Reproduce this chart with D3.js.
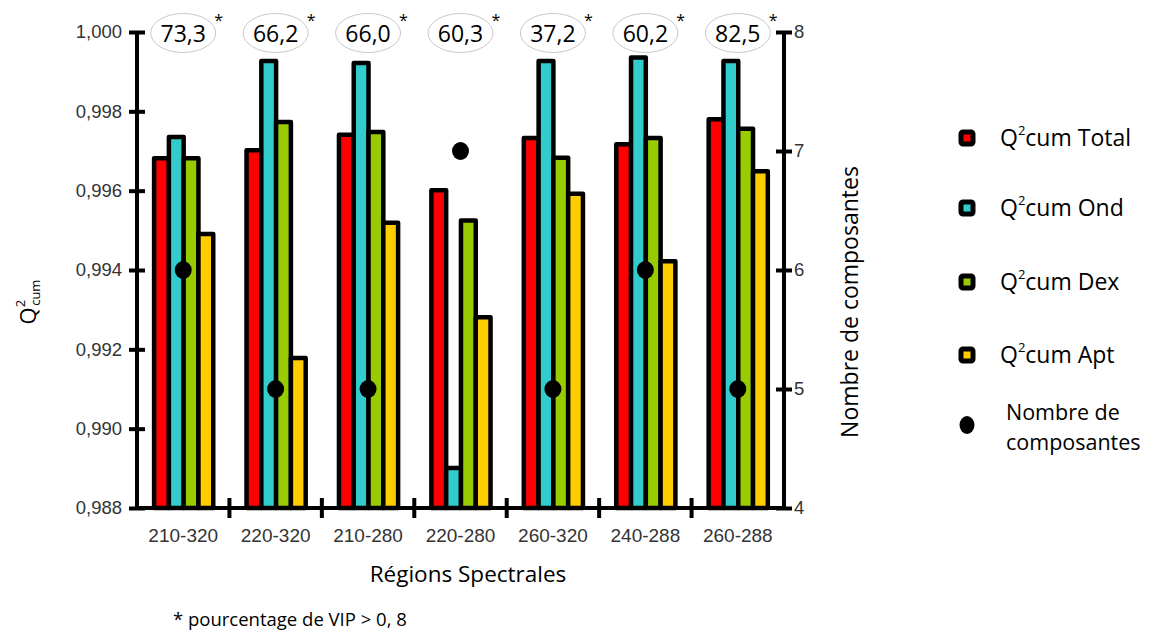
<!DOCTYPE html>
<html><head><meta charset="utf-8">
<script src="https://cdn.jsdelivr.net/npm/d3@7"></script>
<style>
body{margin:0;background:#fff;}
svg{display:block;}
</style></head>
<body>
<svg id="c" width="1151" height="631"></svg>
<script>
const categories = ["210-320","220-320","210-280","220-280","260-320","240-288","260-288"];
const seriesKeys = ["Total","Ond","Dex","Apt"];
const seriesColors = ["#ff0000","#33cccc","#99cc00","#ffcc00"];
const q2Total = [0.99682,0.99702,0.99741,0.99601,0.99733,0.99717,0.99780];
const q2Ond   = [0.99735,0.99927,0.99922,0.98901,0.99927,0.99936,0.99927];
const q2Dex   = [0.99682,0.99773,0.99748,0.99525,0.99683,0.99733,0.99756];
const q2Apt   = [0.99491,0.99178,0.99519,0.99281,0.99592,0.99422,0.99649];
const nComposantes = [6,5,5,7,5,6,5];
const vipPercent = ["73,3","66,2","66,0","60,3","37,2","60,2","82,5"];
const leftTicks = [0.988,0.990,0.992,0.994,0.996,0.998,1.000];
const rightTicks = [4,5,6,7,8];

const seriesValues = [q2Total,q2Ond,q2Dex,q2Apt];
const svg = d3.select("#c");
const L=137,R=784,T=32,B=508;
const ff = "Open Sans, Noto Sans, sans-serif";
const af = "Liberation Sans, Arial, sans-serif";

const x = d3.scaleBand().domain(categories).range([L,R]);
const bw = x.bandwidth();
const x1 = d3.scaleBand().domain(seriesKeys).range([bw*0.185,bw*0.825]);
const y = d3.scaleLinear().domain([0.988,1.0]).range([B,T]);
const yR = d3.scaleLinear().domain([4,8]).range([B,T]);

// bars
const g = svg.append("g");
categories.forEach((c,i)=>{
  seriesKeys.forEach((k,j)=>{
    const v = seriesValues[j][i];
    g.append("rect")
      .attr("x", x(c)+x1(k))
      .attr("y", y(v))
      .attr("width", x1.bandwidth())
      .attr("height", y(0.988)-y(v))
      .attr("fill", seriesColors[j])
      .attr("stroke","#000").attr("stroke-width",4.5).attr("stroke-linejoin","round");
  });
});

// dots
svg.append("g").selectAll("ellipse").data(categories).join("ellipse")
  .attr("cx", c=>x(c)+bw/2)
  .attr("cy", (c,i)=>yR(nComposantes[i]))
  .attr("rx",8.5).attr("ry",9).attr("fill","#000");

// left axis
const ax = svg.append("g").attr("transform",`translate(${L},0)`)
  .call(d3.axisLeft(y).tickValues(leftTicks).tickFormat(d=>d3.format(".3f")(d).replace(".",",")).tickSizeOuter(0).tickSize(8).tickPadding(8));
ax.select(".domain").attr("stroke-width",4).attr("d",`M0,${T}V${B}`);
ax.selectAll(".tick line").attr("x1",-8).attr("x2",8).attr("stroke-width",4);
ax.selectAll(".tick text").attr("font-family",af).attr("font-size",18.5).attr("fill","#333").attr("x",-15);

// right axis
const ar = svg.append("g").attr("transform",`translate(${R},0)`)
  .call(d3.axisRight(yR).tickValues(rightTicks).tickFormat(d3.format("d")).tickSizeOuter(0).tickSize(8).tickPadding(8));
ar.select(".domain").attr("stroke-width",4).attr("d",`M0,${T}V${B}`);
ar.selectAll(".tick line").attr("x1",-8).attr("x2",8).attr("stroke-width",4);
ar.selectAll(".tick text").attr("font-family",af).attr("font-size",18.5).attr("fill","#333").attr("x",10);

// bottom axis
const ab = svg.append("g").attr("transform",`translate(0,${B})`)
  .call(d3.axisBottom(x).tickSize(0).tickPadding(21).tickSizeOuter(0));
ab.select(".domain").attr("stroke-width",4).attr("d",`M${L},0H${R}`);
ab.selectAll(".tick text").attr("font-family",af).attr("font-size",19).attr("fill","#333");
ab.selectAll(".bt").data(categories.slice(0,-1)).join("line").attr("class","bt")
  .attr("x1",c=>x(c)+bw).attr("x2",c=>x(c)+bw).attr("y1",-10).attr("y2",10)
  .attr("stroke","#000").attr("stroke-width",4);

// VIP ellipses
const vg = svg.append("g");
categories.forEach((c,i)=>{
  const cx = x(c)+bw/2;
  vg.append("ellipse").attr("cx",cx).attr("cy",33).attr("rx",32.5).attr("ry",19.5)
    .attr("fill","#fff").attr("stroke","#c8c8c8").attr("stroke-width",1);
  vg.append("text").attr("x",cx).attr("y",41.5).attr("text-anchor","middle")
    .attr("font-family",ff).attr("font-size",23).attr("fill","#000").text(vipPercent[i]);
  vg.append("text").attr("x",cx+31).attr("y",26)
    .attr("font-family",ff).attr("font-size",16).attr("fill","#000").text("*");
});

// titles
svg.append("text").attr("x",468).attr("y",582).attr("text-anchor","middle")
  .attr("font-family",ff).attr("font-size",22.5).text("Régions Spectrales");
svg.append("text").attr("x",173).attr("y",626)
  .attr("font-family",ff).attr("font-size",18.5).text("* pourcentage de VIP > 0, 8");
const lt = svg.append("text").attr("transform","translate(36,302) rotate(-90)").attr("text-anchor","middle")
  .attr("font-family",ff).attr("font-size",22);
lt.append("tspan").text("Q");
lt.append("tspan").attr("font-size",13).attr("dy",-11).text("2");
lt.append("tspan").attr("font-size",13).attr("dy",15).attr("dx",-6).text("cum");
svg.append("text").attr("transform","translate(858,302) rotate(-90)").attr("text-anchor","middle")
  .attr("font-family",ff).attr("font-size",23).text("Nombre de composantes");

// legend
const legY = [138,208,282,355];
const lg = svg.append("g");
seriesKeys.forEach((k,j)=>{
  lg.append("rect").attr("x",961).attr("y",legY[j]-6).attr("width",12).attr("height",12).attr("rx",2)
    .attr("fill",seriesColors[j]).attr("stroke","#000").attr("stroke-width",5);
  const t = lg.append("text").attr("x",1000).attr("y",legY[j]+8).attr("font-family",ff).attr("font-size",23);
  t.append("tspan").text("Q");
  t.append("tspan").attr("font-size",13).attr("dy",-11).text("2");
  t.append("tspan").attr("dy",11).text("cum "+k);
});
lg.append("ellipse").attr("cx",967).attr("cy",425).attr("rx",7.5).attr("ry",9).attr("fill","#000");
lg.append("text").attr("x",1006).attr("y",420).attr("font-family",ff).attr("font-size",21.5).text("Nombre de");
lg.append("text").attr("x",1006).attr("y",450).attr("font-family",ff).attr("font-size",21.5).text("composantes");
</script>
</body></html>
